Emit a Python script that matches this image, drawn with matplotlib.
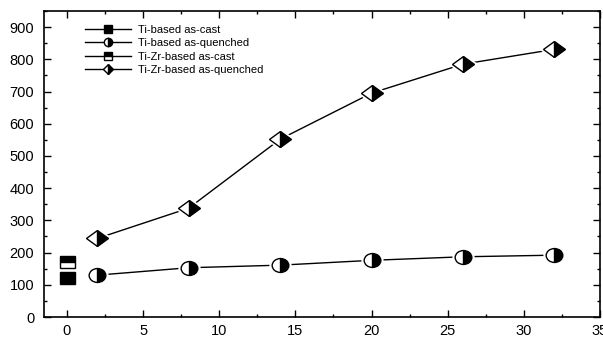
import matplotlib
matplotlib.use("Agg")
import matplotlib.pyplot as plt
from matplotlib.ticker import MultipleLocator
from matplotlib.markers import MarkerStyle
from matplotlib.transforms import Affine2D
from matplotlib.lines import Line2D

plt.rcParams['font.family'] = ['Liberation Sans', 'DejaVu Sans']

# Data
ti_cast_x = [0]
ti_cast_y = [122]
tizr_cast_x = [0]
tizr_cast_y = [172]
quench_x = [2, 8, 14, 20, 26, 32]
ti_quench_y = [130, 153, 161, 176, 187, 192]
tizr_quench_y = [244, 338, 552, 695, 785, 831]

labels = ["Ti-based as-cast", "Ti-based as-quenched",
          "Ti-Zr-based as-cast", "Ti-Zr-based as-quenched"]


def mk(shape, fill='full', sx=1.0):
    return MarkerStyle(shape, fillstyle=fill, transform=Affine2D().scale(sx, 1.0))


fig = plt.figure(figsize=(6.03, 3.37), dpi=100)
ax = fig.add_axes([0.073, 0.0593, 0.922, 0.908])

# white halos to make gaps between lines and markers
ax.plot(quench_x, ti_quench_y, ls='none', marker=mk('o', sx=1.2), ms=12.5,
        mfc='white', mec='white', zorder=2)
ax.plot(quench_x, tizr_quench_y, ls='none', marker=mk('D', sx=1.37), ms=10.5,
        mfc='white', mec='white', zorder=2)

ax.plot(quench_x, ti_quench_y, color='black', lw=1, zorder=1)
ax.plot(quench_x, tizr_quench_y, color='black', lw=1, zorder=1)

ax.plot(ti_cast_x, ti_cast_y, ls='none', marker=mk('s', sx=1.35), ms=8,
        mfc='black', mec='black', zorder=3)
ax.plot(quench_x, ti_quench_y, ls='none', marker=mk('o', 'right', sx=1.2), ms=10,
        mfc='black', mfcalt='white', mec='black', mew=1, zorder=3)
ax.plot(tizr_cast_x, tizr_cast_y, ls='none', marker=mk('s', 'top', sx=1.35), ms=8,
        mfc='black', mfcalt='white', mec='black', mew=1, zorder=3)
ax.plot(quench_x, tizr_quench_y, ls='none', marker=mk('D', 'right', sx=1.37), ms=8.1,
        mfc='black', mfcalt='white', mec='black', mew=1, zorder=3)

lh = [
    Line2D([], [], color='black', lw=1, marker='s', ms=5.5, mfc='black', mec='black'),
    Line2D([], [], color='black', lw=1, marker='o', ms=6, fillstyle='right',
           mfc='black', mfcalt='white', mec='black'),
    Line2D([], [], color='black', lw=1, marker='s', ms=5.5, fillstyle='top',
           mfc='black', mfcalt='white', mec='black'),
    Line2D([], [], color='black', lw=1, marker='D', ms=5, fillstyle='right',
           mfc='black', mfcalt='white', mec='black'),
]
ax.legend(lh, labels, loc='upper left', bbox_to_anchor=(0.06, 0.98), frameon=False,
          fontsize=8, handlelength=4.1, handletextpad=0.7, labelspacing=0.3,
          borderpad=0.2)

ax.set_xlim(-1.5, 35)
ax.set_ylim(0, 950)
ax.xaxis.set_major_locator(MultipleLocator(5))
ax.xaxis.set_minor_locator(MultipleLocator(2.5))
ax.yaxis.set_major_locator(MultipleLocator(100))
ax.yaxis.set_minor_locator(MultipleLocator(50))
ax.tick_params(which='both', direction='in', top=True, right=True, labelsize=10.5, width=1)
ax.tick_params(axis='y', pad=7)
ax.tick_params(axis='x', pad=5)
ax.tick_params(which='major', length=5)
ax.tick_params(which='minor', length=2.5)
for s in ax.spines.values():
    s.set_linewidth(1.2)

fig.savefig("out.png", dpi=100)
